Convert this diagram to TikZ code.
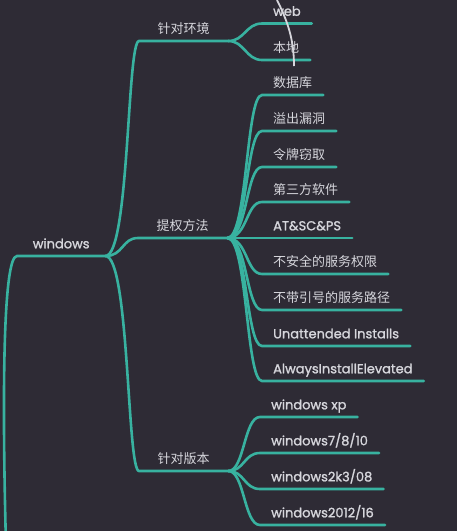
\documentclass[tikz,border=0pt]{standalone}
\usepackage{fontspec}
\usepackage{xcolor}
\newfontfamily\cjk{Noto Sans CJK SC}
\newfontfamily\latin{Poppins}[FakeBold=1.4]
\definecolor{bgdark}{HTML}{2E2B35}
\definecolor{tealline}{HTML}{38B2A0}
\definecolor{labeltext}{HTML}{D6D6DC}

\tikzset{
  branch/.style={draw=tealline, line width=2.6pt, line cap=round},
  lbl/.style={text=labeltext, font=\cjk\fontsize{13}{15}\selectfont, inner xsep=11pt, inner ysep=4.5pt,
    text height=10pt, text depth=3pt, anchor=south west},
  lat/.style={lbl, font=\latin\fontsize{13}{15}\selectfont},
  mid/.style={lbl, inner xsep=0pt, minimum width=89pt}
}

\begin{document}
\begin{tikzpicture}[x=1pt, y=-1pt]
\fill[bgdark] (0,0) rectangle (457,531);
\clip (0,0) rectangle (457,531);

% root and its three branches
\node[lat, inner xsep=0pt, minimum width=88pt] (root) at (17,256) {windows};
\coordinate (rootin) at (6,545);
\node[mid] (env) at (139,41) {针对环境};
\node[mid] (perm) at (138,238) {提权方法};
\node[mid] (ver) at (139,471) {针对版本};

\draw[branch] (rootin) .. controls +(-4,-150) and +(-14,0) .. (root.south west) -- (root.south east);
\draw[branch] (root.south east) .. controls +(24,0) and +(-12,0) .. (env.south west) -- (env.south east);
\draw[branch] (root.south east) .. controls +(18,0) and +(-16,0) .. (perm.south west) -- (perm.south east);
\draw[branch] (root.south east) .. controls +(24,0) and +(-12,0) .. (ver.south west) -- (ver.south east);

% 针对环境
\node[lat] (web) at (262,23.5) {web};
\node[lbl] (local) at (262,60) {本地};
\draw[branch] (env.south east) .. controls +(16,0) and +(-16,0) .. (web.south west) -- (web.south east);
\draw[branch] (env.south east) .. controls +(16,0) and +(-16,0) .. (local.south west) -- (local.south east);

% 提权方法
\node[lbl] (db) at (262,95) {数据库};
\node[lbl] (overflow) at (262,131) {溢出漏洞};
\node[lbl] (token) at (262,167) {令牌窃取};
\node[lbl] (thirdparty) at (262,202) {第三方软件};
\node[lat] (atsc) at (262,238) {AT\&SC\&PS};
\node[lbl] (svcperm) at (262,274) {不安全的服务权限};
\node[lbl] (svcpath) at (262,310) {不带引号的服务路径};
\node[lat] (unattend) at (262,346) {Unattended Installs};
\node[lat] (always) at (262,381) {AlwaysInstallElevated};
\draw[branch] (perm.south east) .. controls +(20,0) and +(-16,0) .. (db.south west) -- (db.south east);
\draw[branch] (perm.south east) .. controls +(20,0) and +(-16,0) .. (overflow.south west) -- (overflow.south east);
\draw[branch] (perm.south east) .. controls +(20,0) and +(-16,0) .. (token.south west) -- (token.south east);
\draw[branch] (perm.south east) .. controls +(20,0) and +(-16,0) .. (thirdparty.south west) -- (thirdparty.south east);
\draw[branch] (perm.south east) -- (atsc.south west) -- (atsc.south east);
\draw[branch] (perm.south east) .. controls +(20,0) and +(-16,0) .. (svcperm.south west) -- (svcperm.south east);
\draw[branch] (perm.south east) .. controls +(20,0) and +(-16,0) .. (svcpath.south west) -- (svcpath.south east);
\draw[branch] (perm.south east) .. controls +(20,0) and +(-16,0) .. (unattend.south west) -- (unattend.south east);
\draw[branch] (perm.south east) .. controls +(20,0) and +(-16,0) .. (always.south west) -- (always.south east);

% 针对版本
\node[lat] (xp) at (260,417) {windows xp};
\node[lat] (win7) at (260,453) {windows7/8/10};
\node[lat] (win2k3) at (260,489) {windows2k3/08};
\node[lat] (win2012) at (260,525) {windows2012/16};
\draw[branch] (ver.south east) .. controls +(16,0) and +(-16,0) .. (xp.south west) -- (xp.south east);
\draw[branch] (ver.south east) .. controls +(16,0) and +(-16,0) .. (win7.south west) -- (win7.south east);
\draw[branch] (ver.south east) .. controls +(16,0) and +(-16,0) .. (win2k3.south west) -- (win2k3.south east);
\draw[branch] (ver.south east) .. controls +(16,0) and +(-16,0) .. (win2012.south west) -- (win2012.south east);

% light stroke over web / 本地
\draw[line width=1.8pt, color=labeltext] (277,0) .. controls (288,22) and (294,40) .. (294,66);
\end{tikzpicture}
\end{document}
